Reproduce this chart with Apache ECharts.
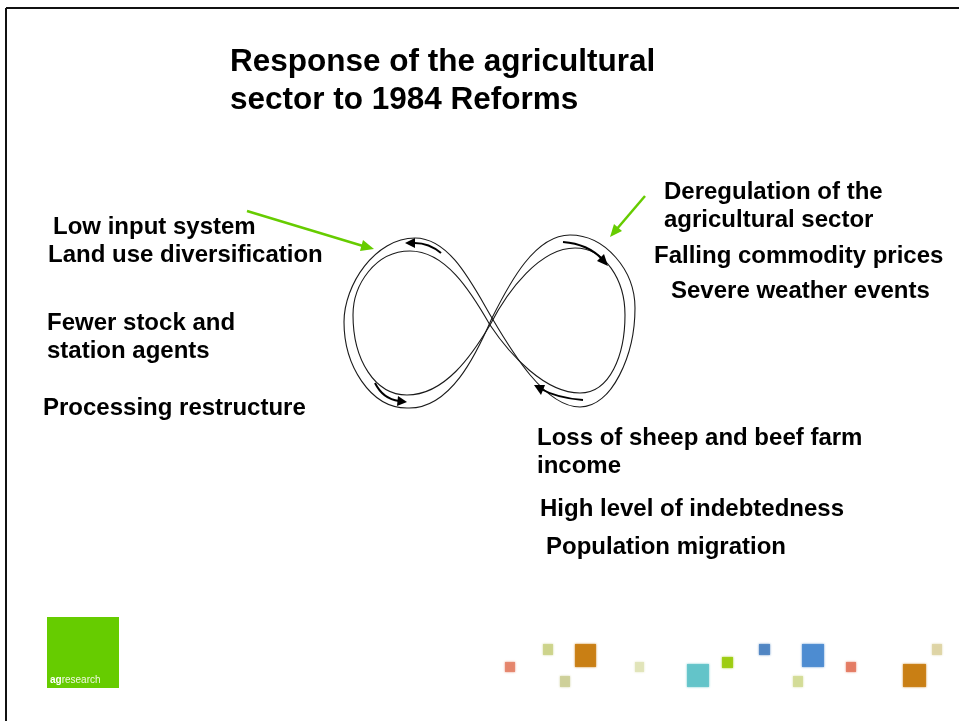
<!DOCTYPE html>
<html>
<head>
<meta charset="utf-8">
<title>Response of the agricultural sector to 1984 Reforms</title>
<script src="https://cdn.jsdelivr.net/npm/echarts@6/dist/echarts.min.js"></script>
<style>
  html, body { margin: 0; padding: 0; background: #fff; }
  #main { width: 959px; height: 721px; }
</style>
</head>
<body>
<div id="main"></div>
<script>
  // slide text
  var titleLines = ['Response of the agricultural', 'sector to 1984 Reforms'];
  var leftLines = ['Low input system', 'Land use diversification', 'Fewer stock and', 'station agents', 'Processing restructure'];
  var rightLines = ['Deregulation of the', 'agricultural sector', 'Falling commodity prices', 'Severe weather events'];
  var bottomLines = ['Loss of sheep and beef farm', 'income', 'High level of indebtedness', 'Population migration'];
  var logoText = ['ag', 'research'];

  // where each line sits (left edge, middle)
  var leftPos = [[53, 227], [48, 255], [47, 323], [47, 351], [43, 408]];
  var rightPos = [[664, 192], [664, 220], [654, 256], [671, 291]];
  var bottomPos = [[537, 438], [537, 466], [540, 509], [546, 547]];

  // decorative squares in the footer: [x, y, w, h, colour]
  var squares = [
    [505, 662, 10, 10, '#e4846a'],
    [543, 644, 10, 11, '#ccd38a'],
    [575, 644, 21, 23, '#c97d12'],
    [560, 676, 10, 11, '#cdcf98'],
    [635, 662, 9, 10, '#e0e3b8'],
    [687, 664, 22, 23, '#62c3c9'],
    [722, 657, 11, 11, '#9ccc10'],
    [759, 644, 11, 11, '#4f84c2'],
    [802, 644, 22, 23, '#4b8bd0'],
    [793, 676, 10, 11, '#d3db96'],
    [846, 662, 10, 10, '#e37a62'],
    [903, 664, 23, 23, '#c97d12'],
    [932, 644, 10, 11, '#ded4a4']
  ];

  var font = '"Liberation Sans", Arial, Helvetica, sans-serif';
  var green = '#66cc00';

  function textItem(str, pos, size) {
    return {
      type: 'text',
      x: pos[0], y: pos[1],
      style: {
        text: str,
        font: 'bold ' + size + 'px ' + font,
        fill: '#000',
        textVerticalAlign: 'middle'
      }
    };
  }

  // cubic segment [x1, y1, cx1, cy1, cx2, cy2, x2, y2]
  function cubic(s, stroke, width) {
    return {
      type: 'bezierCurve',
      shape: { x1: s[0], y1: s[1], cpx1: s[2], cpy1: s[3], cpx2: s[4], cpy2: s[5], x2: s[6], y2: s[7] },
      style: { fill: null, stroke: stroke, lineWidth: width }
    };
  }
  // quadratic segment [x1, y1, cx, cy, x2, y2]
  function quad(s, stroke, width) {
    return {
      type: 'bezierCurve',
      shape: { x1: s[0], y1: s[1], cpx1: s[2], cpy1: s[3], x2: s[4], y2: s[5] },
      style: { fill: null, stroke: stroke, lineWidth: width }
    };
  }

  var graphics = [];

  // frame
  graphics.push({ type: 'line', shape: { x1: 6, y1: 8, x2: 959, y2: 8 }, style: { stroke: '#111', lineWidth: 2 } });
  graphics.push({ type: 'line', shape: { x1: 6, y1: 8, x2: 6, y2: 721 }, style: { stroke: '#111', lineWidth: 2 } });

  graphics.push(textItem(titleLines[0], [230, 62], 31.5));
  graphics.push(textItem(titleLines[1], [230, 100], 31.5));
  leftLines.forEach(function (s, i) { graphics.push(textItem(s, leftPos[i], 24)); });
  rightLines.forEach(function (s, i) { graphics.push(textItem(s, rightPos[i], 24)); });
  bottomLines.forEach(function (s, i) { graphics.push(textItem(s, bottomPos[i], 24)); });

  // the two hand drawn figure eights
  var eightOuter = [
    [492, 318, 510, 282, 535, 235, 570, 235],
    [570, 235, 605, 235, 635, 270, 635, 308],
    [635, 308, 635, 355, 612, 407, 580, 407],
    [580, 407, 545, 407, 512, 352, 492, 318],
    [492, 318, 472, 284, 450, 238, 415, 238],
    [415, 238, 375, 238, 344, 285, 344, 322],
    [344, 322, 344, 365, 370, 408, 407, 408],
    [407, 408, 450, 410, 476, 355, 492, 318]
  ];
  var eightInner = [
    [490, 325, 508, 290, 540, 248, 575, 248],
    [575, 248, 605, 248, 625, 280, 625, 315],
    [625, 315, 625, 355, 610, 393, 580, 393],
    [580, 393, 545, 393, 510, 355, 490, 325],
    [490, 325, 470, 290, 445, 251, 410, 251],
    [410, 251, 375, 251, 353, 285, 353, 315],
    [353, 315, 353, 360, 375, 395, 407, 395],
    [407, 395, 445, 395, 472, 355, 490, 325]
  ];
  eightOuter.concat(eightInner).forEach(function (s) {
    graphics.push(cubic(s, '#1a1a1a', 1.1));
  });

  // black flow arrows along the loop
  var flow = [
    { c: [441, 253, 428, 242, 412, 243], head: [[405, 243], [415, 238], [415, 248]] },
    { c: [563, 242, 588, 244, 602, 259], head: [[608, 266], [597, 261], [604, 254]] },
    { c: [375, 383, 383, 399, 399, 401], head: [[407, 402], [397, 406], [398, 396]] },
    { c: [583, 400, 557, 398, 541, 389], head: [[534, 385], [545, 385], [541, 395]] }
  ];
  flow.forEach(function (f) {
    graphics.push(quad(f.c, '#000', 2));
    graphics.push({ type: 'polygon', shape: { points: f.head }, style: { fill: '#000' } });
  });

  // green pointers
  graphics.push({ type: 'line', shape: { x1: 247, y1: 211, x2: 363, y2: 246 }, style: { stroke: green, lineWidth: 2.5 } });
  graphics.push({ type: 'polygon', shape: { points: [[374, 249], [360, 251], [363, 240]] }, style: { fill: green } });
  graphics.push({ type: 'line', shape: { x1: 645, y1: 196, x2: 616, y2: 230 }, style: { stroke: green, lineWidth: 2.5 } });
  graphics.push({ type: 'polygon', shape: { points: [[610, 237], [622, 231], [614, 224]] }, style: { fill: green } });

  // agresearch logo
  graphics.push({ type: 'rect', shape: { x: 47, y: 617, width: 72, height: 71 }, style: { fill: green } });
  graphics.push({
    type: 'text', x: 50, y: 680,
    style: {
      text: '{a|' + logoText[0] + '}{b|' + logoText[1] + '}',
      textVerticalAlign: 'middle',
      rich: {
        a: { fontFamily: font, fontSize: 10, fontWeight: 'bold', fill: '#fff', color: '#fff' },
        b: { fontFamily: font, fontSize: 10, fill: '#f0f8e0', color: '#f0f8e0' }
      }
    }
  });

  squares.forEach(function (s) {
    graphics.push({
      type: 'rect',
      shape: { x: s[0], y: s[1], width: s[2], height: s[3] },
      style: { fill: s[4], opacity: 0.9, shadowBlur: 2, shadowColor: s[4] }
    });
  });

  var chart = echarts.init(document.getElementById('main'));
  chart.setOption({
    backgroundColor: '#fff',
    animation: false,
    graphic: graphics
  });
</script>
</body>
</html>
